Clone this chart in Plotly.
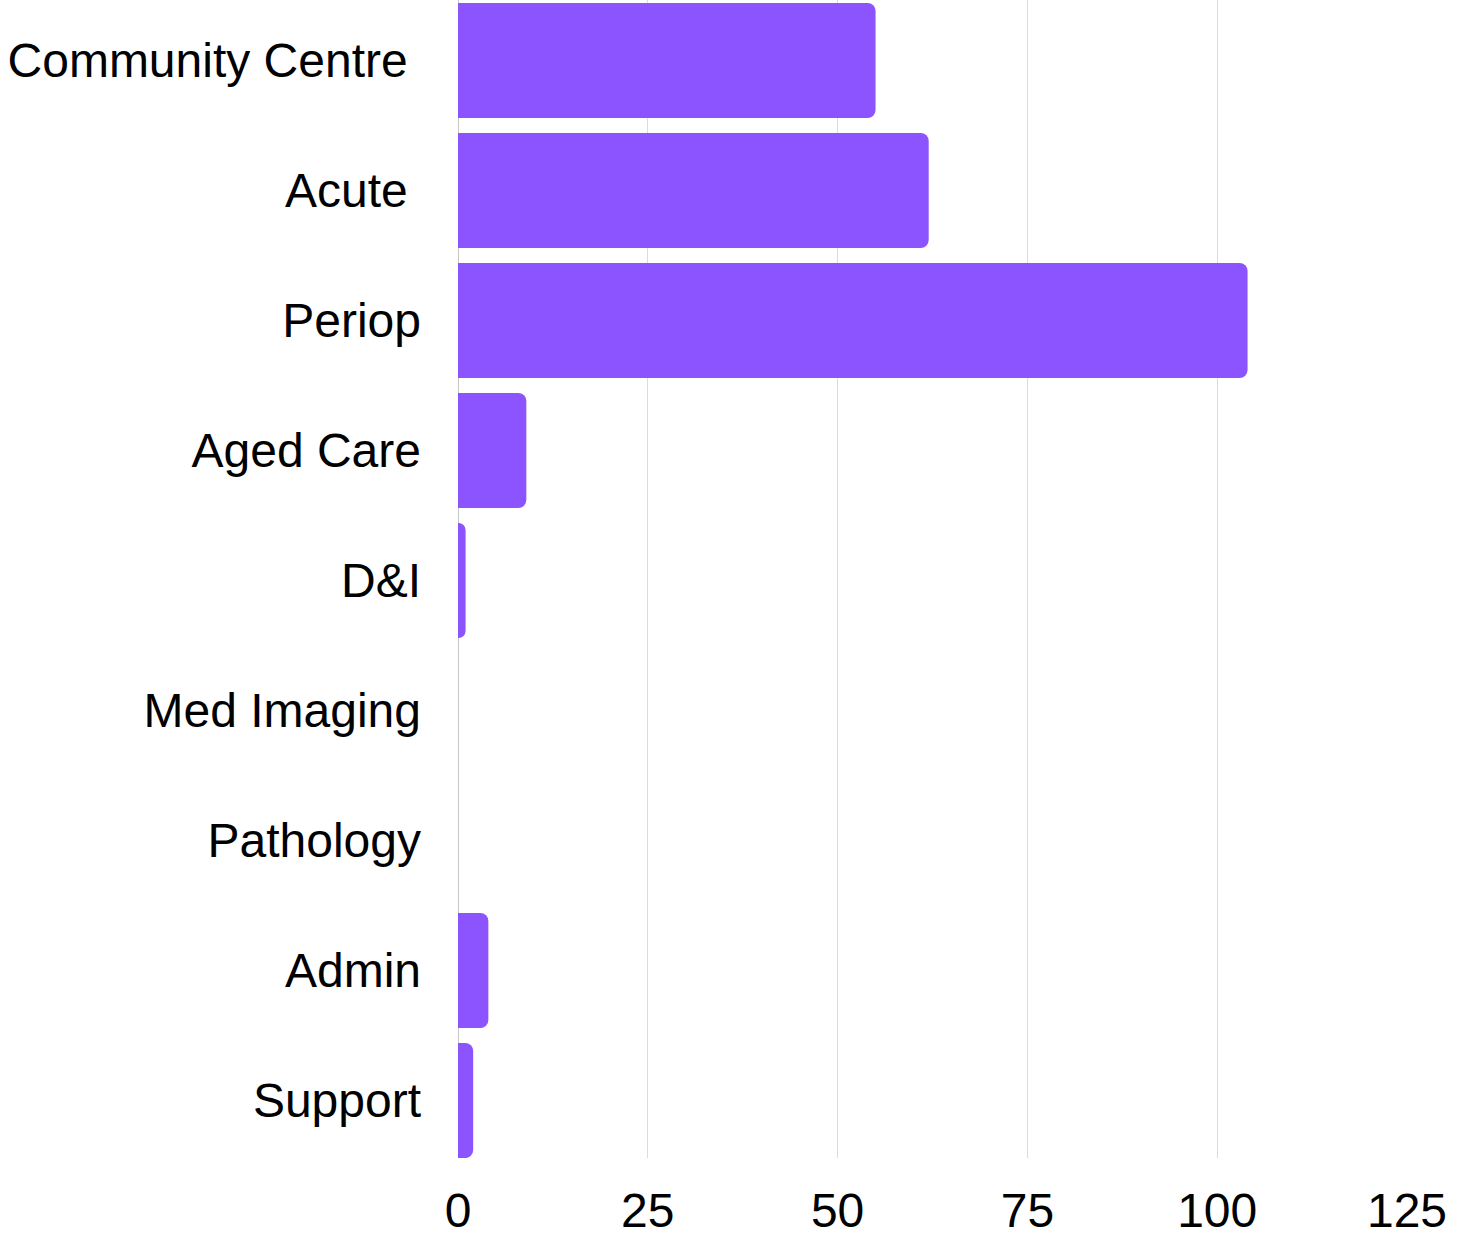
import plotly.graph_objects as go

categories = ["Community Centre\u00a0", "Acute\u00a0", "Periop", "Aged Care", "D&I",
              "Med Imaging", "Pathology", "Admin", "Support"]
values = [55, 62, 104, 9, 1, 0, 0, 4, 2]
x_ticks = [0, 25, 50, 75, 100, 125]

fig = go.Figure(go.Bar(
    x=values, y=categories, orientation="h",
    marker=dict(color="#8c54ff", line=dict(width=0), cornerradius=8),
    width=0.885,
))

fig.update_layout(
    width=1466, height=1233,
    margin=dict(l=458, r=59, t=0, b=75),
    paper_bgcolor="white", plot_bgcolor="white",
    font=dict(family="Liberation Sans, Arial, sans-serif", size=48, color="black"),
    showlegend=False,
    bargap=0.115,
)
fig.update_xaxes(
    range=[0, 125], tickvals=x_ticks, ticktext=[str(v) for v in x_ticks],
    showgrid=True, gridcolor="#dcdcdc", gridwidth=1,
    zeroline=True, zerolinecolor="#c8c8c8", zerolinewidth=1,
    showline=False, ticks="", ticklabelstandoff=20, automargin=False,
    tickfont=dict(size=48),
)
fig.update_yaxes(
    type="category", categoryorder="array", categoryarray=categories,
    range=[8.442, -0.465], automargin=False,
    showgrid=False, zeroline=False, showline=False, ticks="",
    ticklabelstandoff=36, tickfont=dict(size=48),
)

fig.write_html(
    "out.html",
    config={"displayModeBar": False, "responsive": False},
    post_script="document.body.style.margin='0';",
)
